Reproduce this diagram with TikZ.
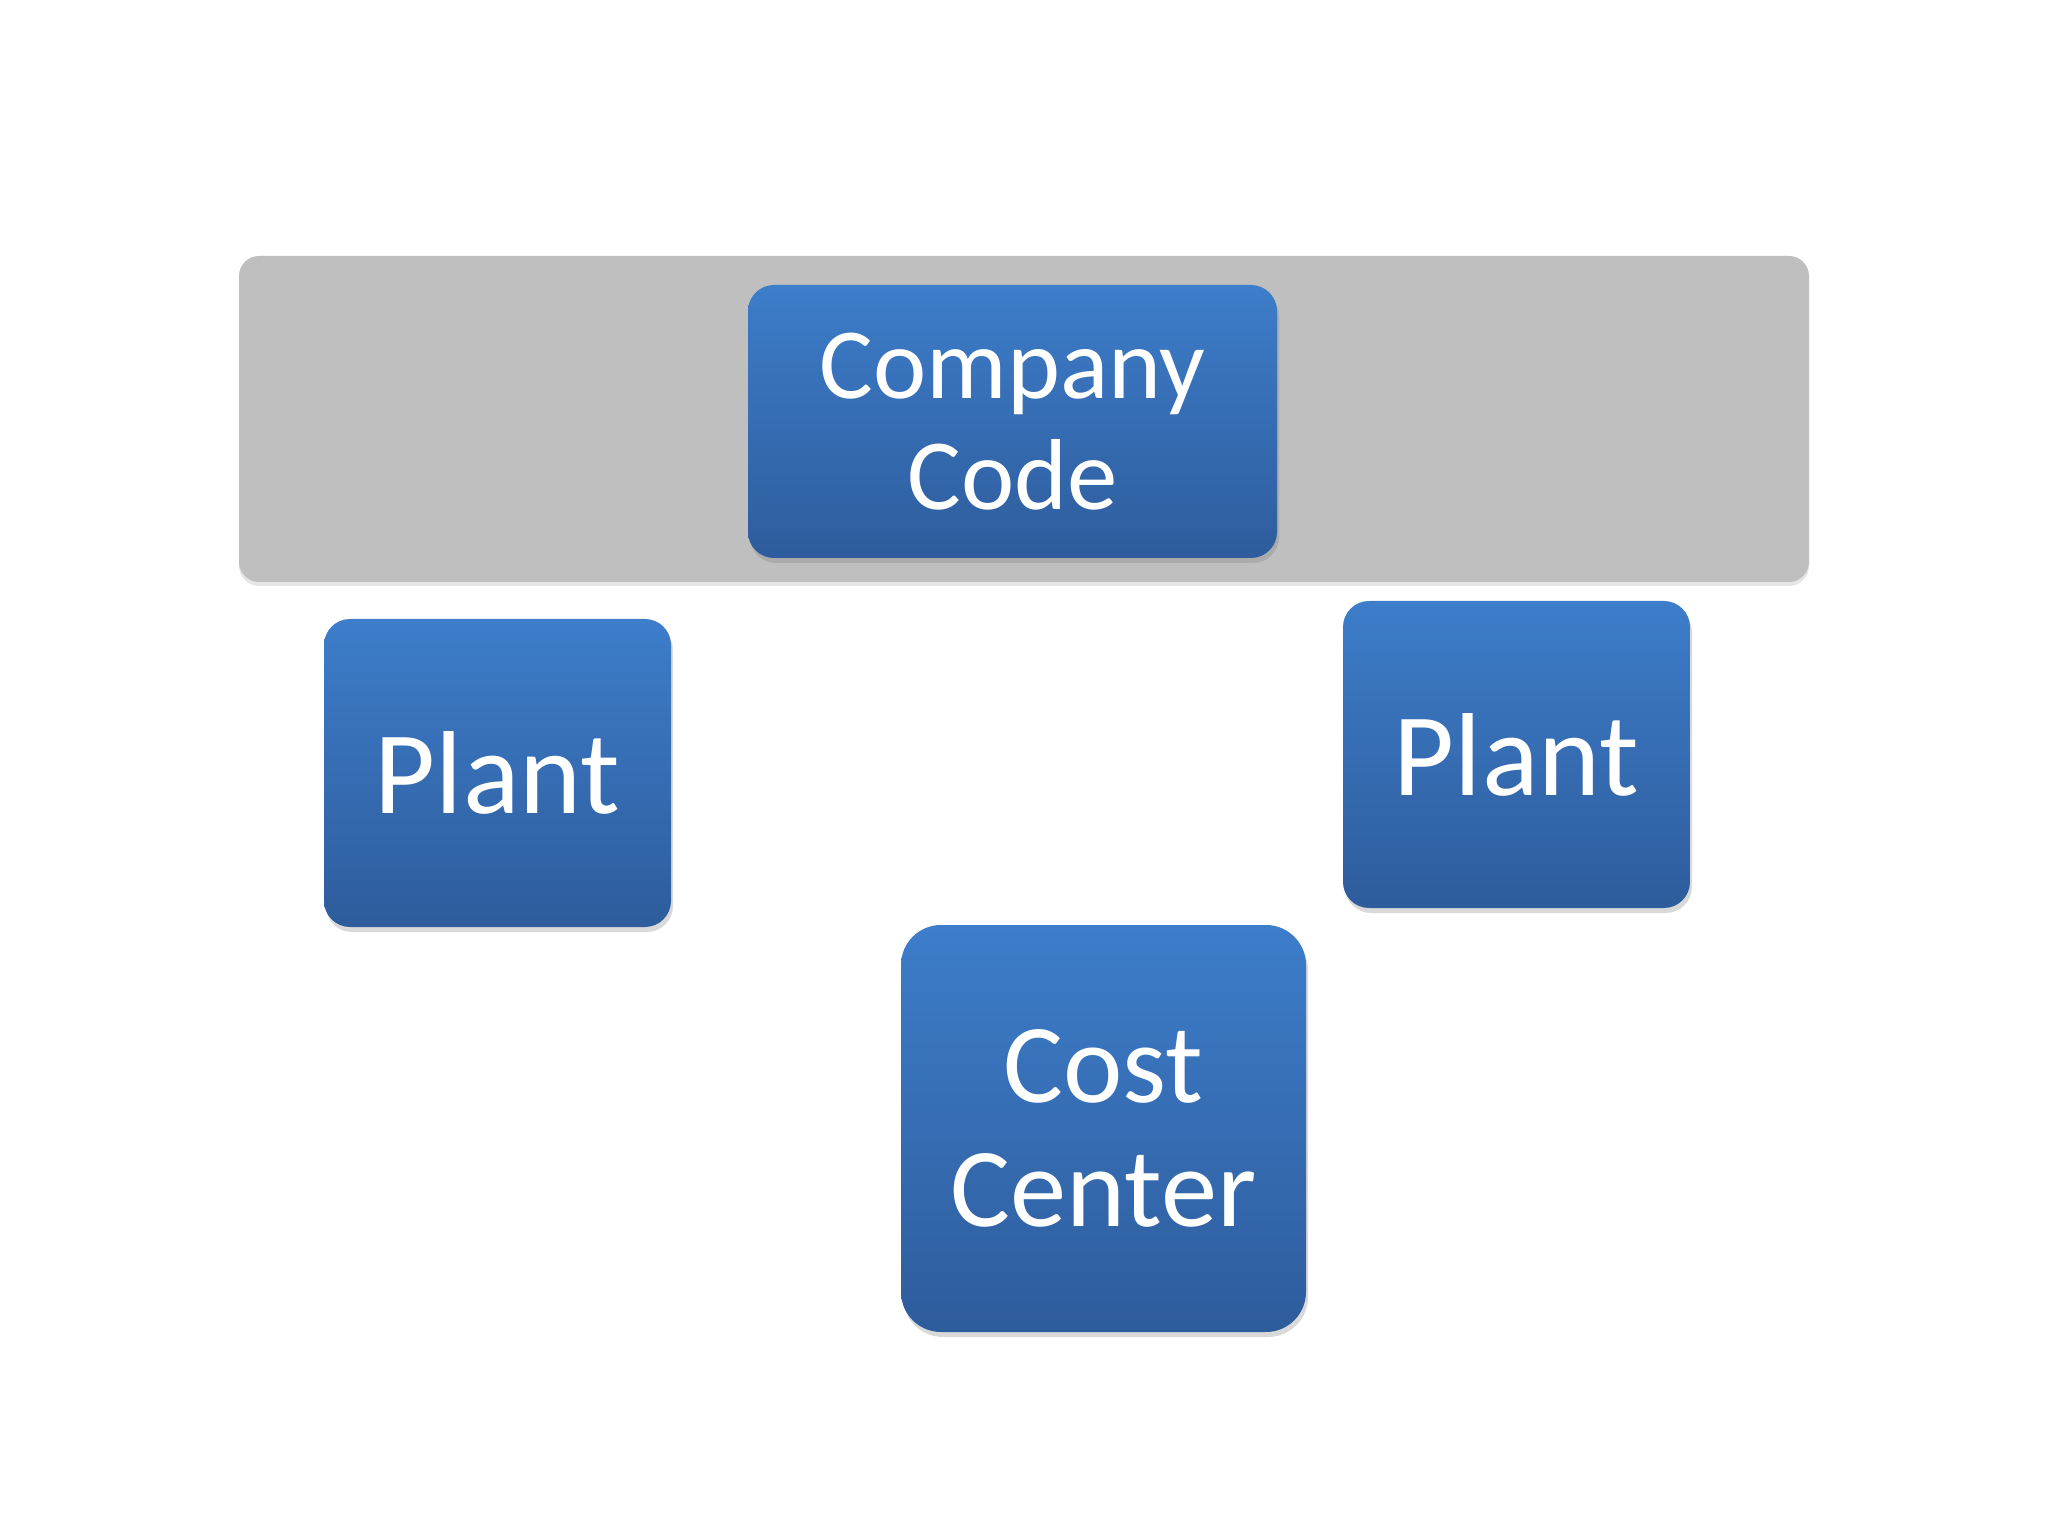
\documentclass[tikz,border=0pt]{standalone}
\usepackage{fontspec}
\setmainfont{Carlito}
\usetikzlibrary{shadows}
\definecolor{boxtop}{HTML}{3D7DCA}
\definecolor{boxbot}{HTML}{2E5C9C}
\definecolor{bandgray}{HTML}{BFBFBF}
\tikzset{
  unitbox/.style={rounded corners=0.26cm,inner sep=0pt,align=center,text=white,
    top color=boxtop,bottom color=boxbot,
    drop shadow={opacity=0.3,shadow xshift=0.02cm,shadow yshift=-0.05cm}},
  bandbox/.style={rounded corners=0.2cm,inner sep=0pt,fill=bandgray,
    drop shadow={opacity=0.2,shadow xshift=0cm,shadow yshift=-0.04cm}}
}
\begin{document}
\begin{tikzpicture}
\useasboundingbox (0,0) rectangle (20.48,-15.36);
\node[bandbox,minimum width=15.70cm,minimum height=3.26cm] (band) at (10.24,-4.19) {};
\node[unitbox,minimum width=5.29cm,minimum height=2.73cm,font=\fontsize{28.7}{31.6}\selectfont] (company) at (10.125,-4.215) {Company\\Code};
\node[unitbox,minimum width=3.47cm,minimum height=3.08cm,font=\fontsize{33.6}{37}\selectfont] (plantL) at (4.975,-7.73) {Plant};
\node[unitbox,minimum width=3.47cm,minimum height=3.07cm,font=\fontsize{33.6}{37}\selectfont] (plantR) at (15.165,-7.545) {Plant};
\node[unitbox,rounded corners=0.4cm,minimum width=4.05cm,minimum height=4.07cm,font=\fontsize{32}{35.3}\selectfont] (cost) at (11.035,-11.285) {Cost\\Center};
\end{tikzpicture}
\end{document}
